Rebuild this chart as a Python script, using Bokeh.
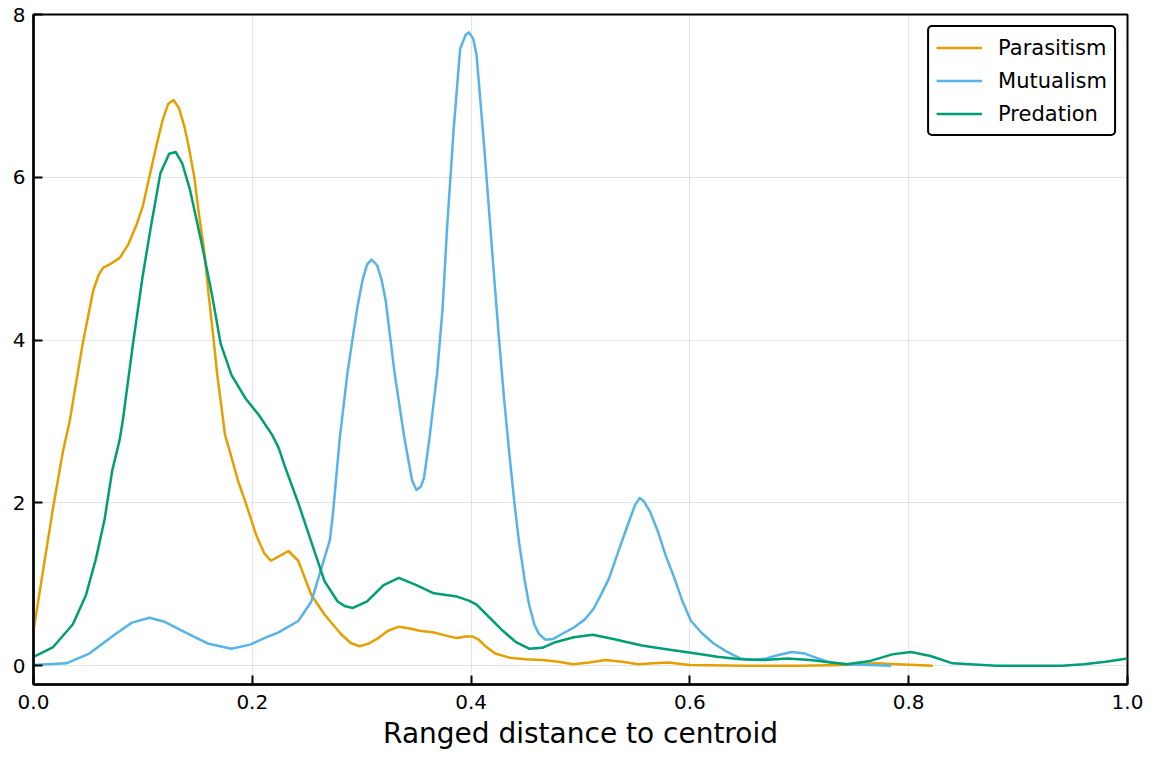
from bokeh.plotting import figure
from bokeh.models import Range1d, PrintfTickFormatter
from bokeh.embed import file_html
from bokeh.resources import INLINE

# ---- data ----
series_names = ["Parasitism", "Mutualism", "Predation"]
series_colors = ["#E69F00", "#56B4E9", "#009E73"]

parasitism_x = [0.000, 0.009, 0.018, 0.027, 0.033, 0.045, 0.0505, 0.0546, 0.0595, 0.0637,
                0.0697, 0.0788, 0.0864, 0.094, 0.100, 0.112, 0.118, 0.123, 0.128, 0.133,
                0.138, 0.142, 0.147, 0.151, 0.156, 0.160, 0.165, 0.168, 0.172, 0.175,
                0.181, 0.187, 0.194, 0.204, 0.211, 0.217, 0.224, 0.233, 0.242, 0.254,
                0.266, 0.281, 0.290, 0.298, 0.306, 0.314, 0.324, 0.334, 0.343, 0.353,
                0.366, 0.377, 0.387, 0.395, 0.401, 0.407, 0.414, 0.422, 0.435, 0.450,
                0.465, 0.480, 0.493, 0.508, 0.523, 0.538, 0.553, 0.567, 0.580, 0.600,
                0.650, 0.700, 0.740, 0.770, 0.790, 0.822]
parasitism_y = [0.43, 1.19, 1.95, 2.64, 3.00, 3.96, 4.33, 4.61, 4.80, 4.89,
                4.93, 5.01, 5.17, 5.41, 5.65, 6.37, 6.70, 6.90, 6.95, 6.85,
                6.62, 6.37, 6.00, 5.57, 5.10, 4.57, 3.96, 3.57, 3.16, 2.84,
                2.56, 2.27, 2.00, 1.59, 1.38, 1.29, 1.34, 1.41, 1.29, 0.87,
                0.63, 0.39, 0.28, 0.24, 0.27, 0.33, 0.43, 0.48, 0.46, 0.43,
                0.41, 0.37, 0.34, 0.36, 0.36, 0.32, 0.23, 0.15, 0.10, 0.08,
                0.07, 0.05, 0.02, 0.04, 0.07, 0.05, 0.02, 0.03, 0.04, 0.01,
                0.00, 0.00, 0.01, 0.03, 0.02, 0.00]

mutualism_x = [0.000, 0.030, 0.051, 0.075, 0.090, 0.106, 0.120, 0.136, 0.160, 0.181,
               0.198, 0.211, 0.224, 0.242, 0.254, 0.263, 0.271, 0.274, 0.280, 0.287,
               0.292, 0.296, 0.301, 0.305, 0.309, 0.314, 0.318, 0.322, 0.330, 0.339,
               0.346, 0.350, 0.354, 0.357, 0.362, 0.369, 0.374, 0.378, 0.384, 0.390,
               0.395, 0.398, 0.402, 0.405, 0.412, 0.420, 0.425, 0.430, 0.435, 0.440,
               0.444, 0.449, 0.453, 0.458, 0.462, 0.468, 0.475, 0.483, 0.494, 0.504,
               0.512, 0.519, 0.526, 0.535, 0.544, 0.550, 0.554, 0.558, 0.564, 0.571,
               0.578, 0.586, 0.593, 0.601, 0.611, 0.622, 0.634, 0.646, 0.658, 0.670,
               0.680, 0.693, 0.705, 0.717, 0.728, 0.745, 0.765, 0.784]
mutualism_y = [0.01, 0.03, 0.15, 0.39, 0.53, 0.59, 0.54, 0.43, 0.27, 0.21,
               0.26, 0.34, 0.41, 0.55, 0.79, 1.19, 1.55, 1.91, 2.80, 3.60,
               4.05, 4.40, 4.75, 4.93, 4.99, 4.92, 4.75, 4.48, 3.60, 2.80,
               2.28, 2.16, 2.20, 2.31, 2.80, 3.60, 4.40, 5.37, 6.58, 7.58,
               7.75, 7.78, 7.70, 7.50, 6.37, 4.96, 4.10, 3.30, 2.60, 1.95,
               1.50, 1.05, 0.75, 0.50, 0.39, 0.32, 0.33, 0.39, 0.47, 0.57,
               0.70, 0.88, 1.07, 1.42, 1.76, 1.98, 2.06, 2.02, 1.88, 1.64,
               1.35, 1.07, 0.80, 0.55, 0.40, 0.27, 0.17, 0.09, 0.07, 0.09,
               0.13, 0.17, 0.15, 0.09, 0.04, 0.02, 0.01, 0.00]

predation_x = [0.000, 0.018, 0.036, 0.048, 0.057, 0.065, 0.072, 0.0785, 0.0815, 0.091,
               0.0996, 0.107, 0.116, 0.124, 0.130, 0.136, 0.143, 0.154, 0.163, 0.171,
               0.181, 0.194, 0.206, 0.218, 0.224, 0.230, 0.242, 0.254, 0.266, 0.278,
               0.285, 0.292, 0.305, 0.320, 0.334, 0.350, 0.366, 0.387, 0.398, 0.405,
               0.417, 0.429, 0.441, 0.453, 0.465, 0.477, 0.494, 0.511, 0.530, 0.556,
               0.580, 0.601, 0.625, 0.646, 0.668, 0.689, 0.710, 0.743, 0.765, 0.785,
               0.802, 0.820, 0.840, 0.880, 0.940, 0.960, 0.980, 1.000]
predation_y = [0.11, 0.23, 0.51, 0.87, 1.31, 1.80, 2.40, 2.76, 3.00, 3.96,
               4.77, 5.37, 6.05, 6.29, 6.31, 6.17, 5.85, 5.17, 4.57, 3.96,
               3.57, 3.28, 3.08, 2.84, 2.68, 2.44, 2.00, 1.52, 1.04, 0.79,
               0.73, 0.71, 0.79, 0.99, 1.08, 0.99, 0.89, 0.85, 0.80, 0.75,
               0.59, 0.43, 0.29, 0.21, 0.22, 0.29, 0.35, 0.38, 0.33, 0.25,
               0.20, 0.16, 0.11, 0.08, 0.07, 0.09, 0.07, 0.02, 0.06, 0.14,
               0.17, 0.12, 0.03, 0.00, 0.00, 0.02, 0.05, 0.09]

x_ticks = [0.0, 0.2, 0.4, 0.6, 0.8, 1.0]
y_ticks = [0, 2, 4, 6, 8]
x_label = "Ranged distance to centroid"

FONT = "DejaVu Sans"

p = figure(width=1143, height=756, output_backend="svg", toolbar_location=None,
           x_range=Range1d(0, 1), y_range=Range1d(-0.23, 8.0),
           min_border_left=33, min_border_right=16, min_border_top=14,
           min_border_bottom=72)

xs = [parasitism_x, mutualism_x, predation_x]
ys = [parasitism_y, mutualism_y, predation_y]
for x, y, name, col in zip(xs, ys, series_names, series_colors):
    p.line(x, y, line_color=col, line_width=2.5, legend_label=name,
           line_join="round")

p.background_fill_color = "white"
p.border_fill_color = "white"
p.outline_line_color = "black"
p.outline_line_width = 2
p.outline_line_alpha = 1.0

for ax in (p.xaxis[0], p.yaxis[0]):
    ax.axis_line_color = "black"
    ax.axis_line_width = 2.5
    ax.major_tick_line_color = "black"
    ax.major_tick_line_width = 2
    ax.major_tick_in = 9
    ax.major_tick_out = 0
    ax.minor_tick_line_color = None
    ax.major_label_text_font = FONT
    ax.major_label_text_font_size = "20px"
    ax.major_label_text_color = "black"

p.xaxis.ticker = x_ticks
p.yaxis.ticker = y_ticks
p.xaxis.formatter = PrintfTickFormatter(format="%.1f")
p.xaxis.major_label_standoff = 10
p.yaxis.major_label_standoff = 8
p.xaxis.axis_label = x_label
p.xaxis.axis_label_text_font = FONT
p.xaxis.axis_label_text_font_size = "28px"
p.xaxis.axis_label_text_font_style = "normal"
p.xaxis.axis_label_text_color = "black"
p.xaxis.axis_label_standoff = 5

p.grid.grid_line_color = "black"
p.grid.grid_line_alpha = 0.1
p.grid.grid_line_width = 1

lg = p.legend[0]
lg.location = "top_right"
lg.margin = 11
lg.padding = 7
lg.spacing = 6
lg.label_height = 27
lg.glyph_height = 27
lg.glyph_width = 46
lg.label_standoff = 16
lg.label_text_font = FONT
lg.label_text_font_size = "21px"
lg.label_text_color = "black"
lg.border_line_color = "black"
lg.border_line_width = 2
lg.border_line_alpha = 1.0
lg.background_fill_color = "white"
lg.background_fill_alpha = 1.0
try:
    lg.border_radius = 5
except Exception:
    pass

open("out.html", "w").write(file_html(p, INLINE))
